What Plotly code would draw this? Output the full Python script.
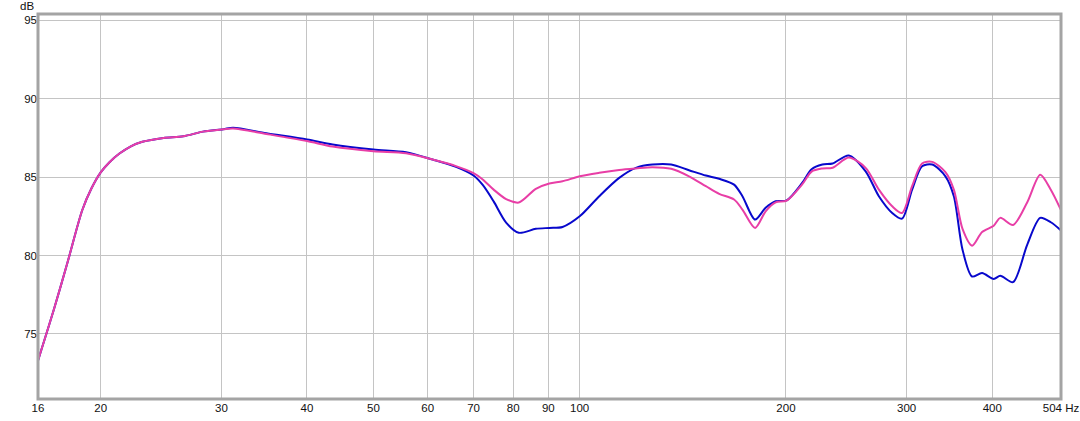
import math
import plotly.graph_objects as go

# Frequency (Hz) sample points
freq_hz = [16.2, 17.1, 17.9, 18.8, 19.4, 20.0, 20.6, 21.3, 22.1, 23.0, 24.7, 26.4, 28.2,
           30.2, 31.2, 34.9, 40.0, 43.6, 50.0, 55.8, 61.0, 66.0, 70.0, 72.2, 74.9, 78.1,
           81.5, 86.3, 90.3, 94.4, 100.0, 106.8, 114.2, 120.8, 127.7, 136.0,
           144.4, 152.8, 159.8, 168.0, 172.8, 180.3, 186.8, 193.2, 200.5, 211.2,
           218.0, 226.0, 234.0, 247.0, 261.4, 273.3, 285.8, 295.4, 305.6, 316.0,
           327.0, 341.8, 351.6, 362.0, 373.8, 386.6, 402.0, 411.0, 429.0, 450.0,
           470.0, 487.0, 504.0]

# Blue trace (dB)
blue_db = [73.3, 76.6, 79.6, 82.9, 84.3, 85.3, 85.95, 86.5, 86.95, 87.25, 87.5, 87.6, 87.9,
           88.05, 88.15, 87.8, 87.4, 87.08, 86.76, 86.59, 86.12, 85.65, 85.1, 84.5, 83.45, 82.1,
           81.45, 81.7, 81.76, 81.82, 82.5, 83.78, 84.95, 85.59, 85.8, 85.8,
           85.44, 85.1, 84.89, 84.52, 83.78, 82.29, 83.04, 83.46, 83.52, 84.63,
           85.5, 85.8, 85.87, 86.38, 85.37, 83.78, 82.71, 82.35, 84.2, 85.69,
           85.8, 85.05, 83.78, 80.37, 78.66, 78.88, 78.5, 78.71, 78.3, 80.7,
           82.4, 82.12, 81.6]

# Pink trace (dB)
pink_db = [73.3, 76.6, 79.6, 82.9, 84.3, 85.3, 85.95, 86.5, 86.95, 87.25, 87.5, 87.6, 87.9,
           88.05, 88.1, 87.75, 87.3, 86.95, 86.65, 86.52, 86.12, 85.7, 85.25, 84.85, 84.2, 83.6,
           83.38, 84.25, 84.59, 84.73, 85.05, 85.27, 85.45, 85.55, 85.63, 85.53,
           85.05, 84.42, 83.93, 83.57, 82.93, 81.76, 82.82, 83.39, 83.5, 84.53,
           85.35, 85.55, 85.6, 86.25, 85.59, 84.2, 83.14, 82.71, 84.42, 85.87,
           85.97, 85.31, 84.2, 81.7, 80.63, 81.5, 81.9, 82.4, 81.95, 83.4,
           85.15, 84.2, 82.9]

x_tick_vals = [16.2, 20, 30, 40, 50, 60, 70, 80, 90, 100, 200, 300, 400, 504]
x_tick_text = ["16", "20", "30", "40", "50", "60", "70", "80", "90", "100",
               "200", "300", "400", "504 Hz"]
y_tick_vals = [75, 80, 85, 90, 95]

x_min, x_max = 16.2, 504
y_min, y_max = 70.85, 95.4

font_family = "Liberation Sans, Arial, sans-serif"

fig = go.Figure()
fig.add_trace(go.Scatter(x=freq_hz, y=blue_db, mode="lines",
                         line=dict(color="#0808cc", width=2, shape="spline", smoothing=0.8),
                         showlegend=False, hoverinfo="skip"))
fig.add_trace(go.Scatter(x=freq_hz, y=pink_db, mode="lines",
                         line=dict(color="#e83ea6", width=2, shape="spline", smoothing=0.8),
                         showlegend=False, hoverinfo="skip"))

fig.update_layout(
    width=1080, height=421,
    margin=dict(l=38, r=19, t=14, b=22, autoexpand=False),
    paper_bgcolor="white", plot_bgcolor="white",
    font=dict(family=font_family, size=11.5, color="#111111"),
    xaxis=dict(type="log", range=[math.log10(x_min), math.log10(x_max)],
               tickvals=x_tick_vals, ticktext=x_tick_text, automargin=False,
               showgrid=True, gridcolor="#c4c4c4", gridwidth=1,
               zeroline=False, showline=False, ticks="", ticklen=0),
    yaxis=dict(range=[y_min, y_max], tickvals=y_tick_vals, automargin=False,
               showgrid=True, gridcolor="#c4c4c4", gridwidth=1,
               zeroline=False, showline=False, ticks="", ticklen=0),
    shapes=[dict(type="rect", xref="paper", yref="paper", x0=0, x1=1, y0=0, y1=1,
                 line=dict(color="#a4a4a4", width=3), layer="above")],
    annotations=[dict(text="dB", xref="paper", yref="paper", x=0, y=1,
                      xshift=-11, yshift=8, xanchor="center", yanchor="middle",
                      showarrow=False, font=dict(size=11.5, family=font_family))],
)

fig.write_html("out.html", config={"displayModeBar": False},
               post_script="document.body.style.margin='0';document.body.style.overflow='hidden';")
